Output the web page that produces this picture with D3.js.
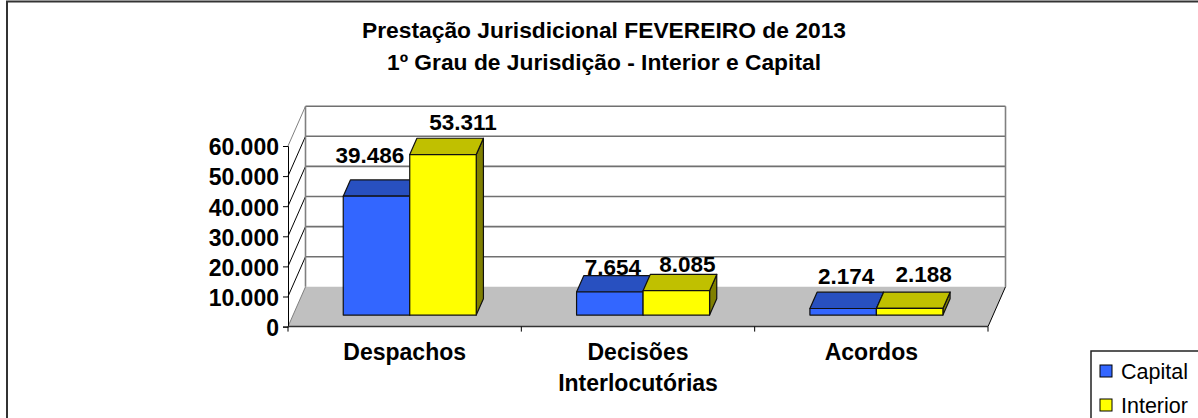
<!DOCTYPE html>
<html>
<head>
<meta charset="utf-8">
<script src="https://cdnjs.cloudflare.com/ajax/libs/d3/7.8.5/d3.min.js"></script>
<style>
  html, body { margin: 0; padding: 0; background: #fff; overflow: hidden; }
  text { font-family: "Liberation Sans", Arial, sans-serif; fill: #000; }
  .bold { font-weight: bold; }
</style>
</head>
<body>
<div id="container"></div>
<script>
/* DATA */
const categories = [["Despachos"], ["Decisões", "Interlocutórias"], ["Acordos"]];
const seriesNames = ["Capital", "Interior"];
const capital = [39486, 7654, 2174];
const interior = [53311, 8085, 2188];
const yTicks = [0, 10000, 20000, 30000, 40000, 50000, 60000];
const titleLines = ["Prestação Jurisdicional FEVEREIRO de 2013", "1º Grau de Jurisdição - Interior e Capital"];

/* CONSTANTS */
const width = 1198, height = 418;
const plot = { left: 288, right: 988, top: 146, bottom: 326.6 };
const depth = { x: 17.5, y: -39.8 };        // floor depth of the 3d box
const barFront = 0.29, barBack = 0.7;       // where the bars sit on the floor
const colors = {
  Capital: { front: "#3366ff", top: "#2850c0", side: "#1a3380" },
  Interior: { front: "#ffff00", top: "#c0c000", side: "#808000" }
};
// excel placed these labels by hand, so nudge them from the bar's front top centre
const labelNudge = [
  [[-6.5, -33.7], [20, -25]],
  [[3, -16.6], [11, -18.7]],
  [[3, -25], [14, -26]]
];

const fmt = d3.formatLocale({ decimal: ",", thousands: ".", grouping: [3], currency: ["", ""] }).format(",d");

/* SCALES */
const catKeys = categories.map(d => d.join(" "));
const xScale = d3.scaleBand().domain(catKeys).range([plot.left, plot.right])
  .paddingInner(0.43).paddingOuter(0.215);
const xSeries = d3.scaleBand().domain(seriesNames).range([0, xScale.bandwidth()]);
const yScale = d3.scaleLinear().domain([0, 60000]).range([plot.bottom, plot.top]);

const svg = d3.select("#container").append("svg")
  .attr("width", width).attr("height", height).style("display", "block");

// outer chart frame, runs off the page at right and bottom
svg.append("rect").attr("x", 7).attr("y", 1.5).attr("width", width + 20).attr("height", height + 20)
  .attr("fill", "#fff").attr("stroke", "#333").attr("stroke-width", 2);

/* TITLE */
svg.selectAll("text.title").data(titleLines).join("text")
  .attr("class", "title bold")
  .attr("x", 604)
  .attr("y", (d, i) => 38 + i * 31.5)
  .attr("text-anchor", "middle")
  .attr("font-size", 22.8)
  .text(d => d);

/* WALLS AND FLOOR */
const x0 = plot.left, x1 = plot.right, yB = plot.bottom, yT = plot.top;
const dx = depth.x, dy = depth.y;

svg.append("path")
  .attr("d", `M${x0},${yB}L${x0 + dx},${yB + dy}H${x1 + dx}L${x1},${yB}Z`)
  .attr("fill", "#c0c0c0");

svg.selectAll("line.grid").data(yTicks.slice(1)).join("line")
  .attr("class", "grid")
  .attr("x1", x0 + dx).attr("x2", x1 + dx)
  .attr("y1", d => yScale(d) + dy).attr("y2", d => yScale(d) + dy)
  .attr("stroke", "#707070").attr("stroke-width", 1.6);

svg.selectAll("line.wall").data(yTicks.slice(1)).join("line")
  .attr("class", "wall")
  .attr("x1", x0).attr("x2", x0 + dx)
  .attr("y1", d => yScale(d)).attr("y2", d => yScale(d) + dy)
  .attr("stroke", d => d === 60000 ? "#808080" : "#000");

svg.append("path")
  .attr("d", `M${x0},${yB}L${x0 + dx},${yB + dy}`)
  .attr("fill", "none").attr("stroke", "#808080");

svg.append("path")
  .attr("d", `M${x0 + dx},${yB + dy}V${yT + dy}M${x1 + dx},${yT + dy}V${yB + dy}`)
  .attr("fill", "none").attr("stroke", "#808080").attr("stroke-width", 1.6);

svg.append("line")
  .attr("x1", x1 + dx).attr("x2", x1)
  .attr("y1", yB + dy).attr("y2", yB)
  .attr("stroke", "#000");

/* AXES */
const yAxis = d3.axisLeft(yScale).tickValues(yTicks).tickFormat(fmt).tickSize(5).tickPadding(4);
const yG = svg.append("g").attr("transform", `translate(${x0},0)`).call(yAxis);
yG.select(".domain").attr("stroke", "#000");
yG.selectAll("text").attr("class", "bold").attr("font-size", 23).attr("font-family", null).attr("y", 1.5);

const xAxis = d3.axisBottom(xScale).tickSize(0).tickPadding(0).tickFormat(() => "");
const xG = svg.append("g").attr("transform", `translate(0,${yB})`).call(xAxis);
xG.select(".domain").remove();
svg.append("line").attr("x1", x0).attr("x2", x1).attr("y1", yB).attr("y2", yB)
  .attr("stroke", "#333").attr("stroke-width", 1.5);

// tick marks sit between the categories
const step = xScale.step();
const edges = [0, 1, 2, 3].map(i => xScale(catKeys[0]) - xScale.paddingOuter() * step + i * step);
svg.selectAll("line.xtick").data(edges).join("line")
  .attr("class", "xtick")
  .attr("x1", d => d).attr("x2", d => d)
  .attr("y1", yB).attr("y2", yB + 5)
  .attr("stroke", "#000");

xG.selectAll(".tick").each(function (d, i) {
  const t = d3.select(this).select("text")
    .attr("class", "bold").attr("font-size", 23).attr("font-family", null).attr("y", 0).attr("dy", null);
  t.selectAll("tspan").data(categories[i]).join("tspan")
    .attr("x", 0)
    .attr("y", (l, j) => 33.5 + j * 31)
    .text(l => l);
});

/* BARS */
const baseY = yB + dy * barFront;
const baseShift = dx * barFront;
const barDx = dx * (barBack - barFront), barDy = dy * (barBack - barFront);

const rows = [];
catKeys.forEach((c, i) => {
  rows.push({ cat: c, i, s: 0, name: "Capital", value: capital[i] });
  rows.push({ cat: c, i, s: 1, name: "Interior", value: interior[i] });
});

const bars = svg.selectAll("g.bar").data(rows).join("g")
  .attr("class", "bar")
  .each(function (d) {
    const g = d3.select(this);
    const bl = xScale(d.cat) + xSeries(d.name) + baseShift;
    const w = xSeries.bandwidth();
    const h = yScale(0) - yScale(d.value);
    const top = baseY - h;
    g.append("path")
      .attr("d", `M${bl + w},${baseY}V${top}l${barDx},${barDy}V${baseY + barDy}Z`)
      .attr("fill", colors[d.name].side);
    g.append("path")
      .attr("d", `M${bl},${top}h${w}l${barDx},${barDy}h${-w}Z`)
      .attr("fill", colors[d.name].top);
    g.append("rect")
      .attr("x", bl).attr("y", top).attr("width", w).attr("height", h)
      .attr("fill", colors[d.name].front);
    g.selectAll("path,rect").attr("stroke", "#111").attr("stroke-width", 1.2).attr("stroke-linejoin", "round");
  });

/* DATA LABELS */
svg.selectAll("text.label").data(rows).join("text")
  .attr("class", "label bold")
  .attr("text-anchor", "middle")
  .attr("font-size", 22.5)
  .attr("x", d => xScale(d.cat) + xSeries(d.name) + baseShift + xSeries.bandwidth() / 2 + labelNudge[d.i][d.s][0])
  .attr("y", d => baseY - (yScale(0) - yScale(d.value)) + labelNudge[d.i][d.s][1])
  .text(d => fmt(d.value));

/* LEGEND */
svg.append("rect").attr("x", 1091).attr("y", 351).attr("width", 130).attr("height", 90)
  .attr("fill", "#fff").attr("stroke", "#222").attr("stroke-width", 1.5);
const legend = svg.selectAll("g.legend").data(seriesNames).join("g")
  .attr("class", "legend")
  .attr("transform", (d, i) => `translate(1100,${365 + i * 34})`);
legend.append("rect").attr("width", 12).attr("height", 12)
  .attr("fill", d => colors[d].front).attr("stroke", "#000");
legend.append("text").attr("x", 21).attr("y", 14).attr("font-size", 21.5).text(d => d);
</script>
</body>
</html>
